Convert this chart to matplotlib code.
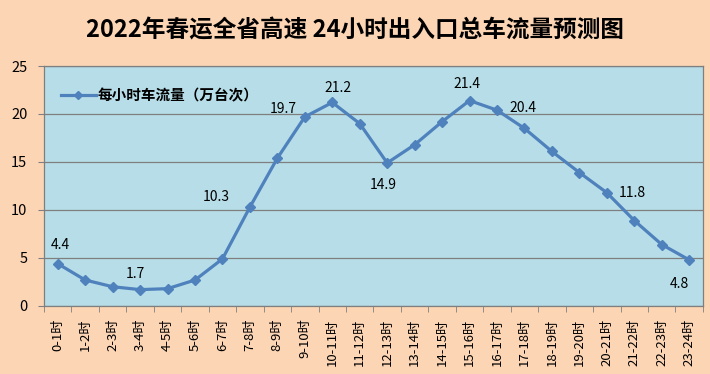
import matplotlib
matplotlib.use("Agg")
import matplotlib.pyplot as plt
from matplotlib.ticker import MultipleLocator, FixedLocator

plt.rcParams['font.family'] = ['Noto Sans CJK SC', 'DejaVu Sans']

categories = [f"{h}-{h+1}时" for h in range(24)]
values = [4.4, 2.7, 2.0, 1.7, 1.8, 2.7, 4.9, 10.3, 15.4, 19.7, 21.2, 19.0,
          14.9, 16.8, 19.2, 21.4, 20.4, 18.5, 16.1, 13.9, 11.8, 8.9, 6.4, 4.8]
series_name = "每小时车流量（万台次）"
title = "2022年春运全省高速 24小时出入口总车流量预测图"
labeled = {0: (3, 19), 3: (-5, 16), 7: (-34, 10), 9: (-22, 8), 10: (6, 14),
           12: (-4, -22), 15: (-3, 17), 16: (26, 2), 20: (25, 0), 23: (-10, -24)}

fig = plt.figure(figsize=(7.1, 3.74), dpi=100)
fig.patch.set_facecolor('#FCD5B5')
ax = fig.add_axes([0.062, 0.182, 0.928, 0.6415])
ax.set_facecolor('#B7DEE8')

x = list(range(len(values)))
ax.plot(x, values, color='#4F81BD', lw=2.3, marker='D', ms=5.5,
        markerfacecolor='#4F81BD', markeredgecolor='#4F81BD', label=series_name, zorder=3)

for i, (dx, dy) in labeled.items():
    ax.annotate(f"{values[i]:.1f}", (x[i], values[i]), xytext=(dx, dy),
                textcoords='offset pixels', ha='center', va='center',
                fontsize=10, color='#000000', zorder=4)

ax.set_xlim(-0.5, 23.5)
ax.set_ylim(0, 25)
ax.yaxis.set_major_locator(MultipleLocator(5))
ax.grid(axis='y', color='#7F7F7F', lw=0.9)
ax.set_axisbelow(True)
ax.set_xticks(x)
ax.set_xticklabels(categories, rotation=90, fontsize=9.5)
ax.tick_params(axis='x', length=0, pad=9)
ax.xaxis.set_minor_locator(FixedLocator([i - 0.5 for i in range(25)]))
ax.tick_params(axis='x', which='minor', length=4, color='#7F7F7F')
ax.tick_params(axis='y', labelsize=10.5, length=4, color='#7F7F7F', pad=8)
for s in ax.spines.values():
    s.set_color('#7F7F7F')
    s.set_linewidth(0.9)

leg = ax.legend(loc='upper left', bbox_to_anchor=(0.01, 0.955), frameon=False,
                handlelength=2.4, handletextpad=0.1, borderaxespad=0.3,
                markerscale=0.75,
                prop={'size': 10.5, 'weight': 'bold'})

fig.text(0.5, 0.918, title, ha='center', va='center', fontsize=17,
         fontweight='bold', color='#000000')

fig.savefig('out.png', dpi=100, facecolor=fig.get_facecolor())
